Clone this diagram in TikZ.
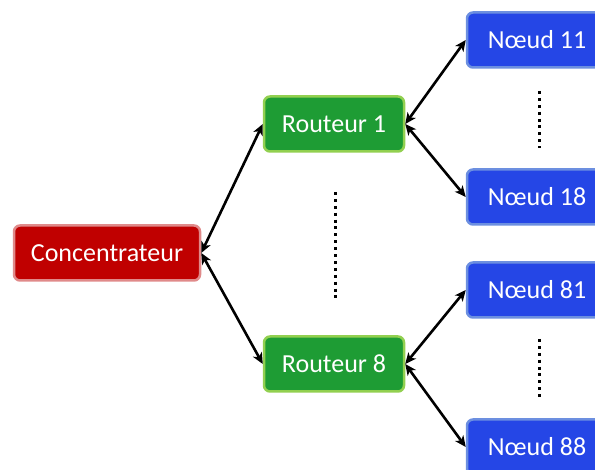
\documentclass[tikz,border=0pt]{standalone}
\usepackage{fontspec}
\setmainfont{Carlito}
\usetikzlibrary{arrows.meta}
\definecolor{redfill}{HTML}{C00000}
\definecolor{redline}{HTML}{E08A8A}
\definecolor{greenfill}{HTML}{1E9C34}
\definecolor{greenline}{HTML}{92D050}
\definecolor{bluefill}{HTML}{2546E6}
\definecolor{blueline}{HTML}{6C8FE0}
\tikzset{
  x=1pt,y=-1pt,
  box/.style={rounded corners=6pt, line width=2.5pt, text=white, font=\fontsize{26}{29}\selectfont, minimum height=55pt, inner sep=0pt},
  conc/.style={box, fill=redfill, draw=redline, minimum width=186pt},
  rout/.style={box, fill=greenfill, draw=greenline, minimum width=140pt},
  noeud/.style={box, fill=bluefill, draw=blueline, minimum width=140pt},
  link/.style={line width=2.6pt, {Stealth[length=11pt,width=10pt,inset=3pt]}-{Stealth[length=11pt,width=10pt,inset=3pt]}},
  vdots/.style={line width=3pt, dash pattern=on 3pt off 3.9pt, line cap=butt},
}
\begin{document}
\begin{tikzpicture}
\useasboundingbox (0,0) rectangle (595,470);
\node[conc] (c) at (107,253) {Concentrateur};
\node[rout] (r1) at (334,124) {Routeur 1};
\node[rout] (r8) at (334,364) {Routeur 8};
\node[noeud] (n11) at (537,40) {Nœud 11};
\node[noeud] (n18) at (537,197) {Nœud 18};
\node[noeud] (n81) at (537,290) {Nœud 81};
\node[noeud] (n88) at (537,447) {Nœud 88};
\draw[link] (c.east) -- (r1.west);
\draw[link] (c.east) -- (r8.west);
\draw[link] (r1.east) -- (n11.west);
\draw[link] (r1.east) -- (n18.west);
\draw[link] (r8.east) -- (n81.west);
\draw[link] (r8.east) -- (n88.west);
\coordinate (d1) at (335,192);
\coordinate (d2) at (335,298);
\draw[vdots] (d1) -- (d2);
\coordinate (d3) at (539,91);
\coordinate (d4) at (539,148);
\draw[vdots] (d3) -- (d4);
\coordinate (d5) at (539,339);
\coordinate (d6) at (539,398);
\draw[vdots] (d5) -- (d6);
\end{tikzpicture}
\end{document}
